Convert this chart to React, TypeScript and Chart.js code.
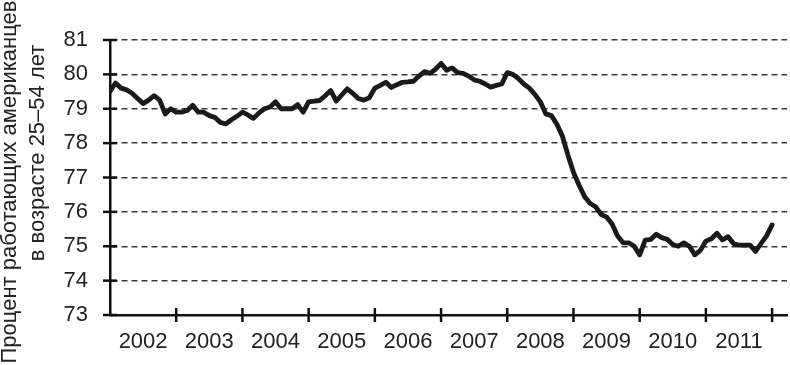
import React, { useEffect, useRef } from "react";
import { Chart, registerables } from "chart.js";

Chart.register(...registerables);

// ---- data ----
const years = ["2002", "2003", "2004", "2005", "2006", "2007", "2008", "2009", "2010", "2011"];
const yTicks = [73, 74, 75, 76, 77, 78, 79, 80, 81];
const titleLine1 = "Процент работающих американцев";
const titleLine2 = "в возрасте 25–54 лет";
// monthly values, Jan 2002 .. Jan 2012
const employmentRate = [
  79.5, 79.75, 79.6, 79.55, 79.45, 79.3, 79.15, 79.25, 79.38, 79.25, 78.85, 79.0,
  78.9, 78.9, 78.95, 79.1, 78.9, 78.9, 78.8, 78.75, 78.6, 78.56, 78.68, 78.78,
  78.9, 78.82, 78.72, 78.88, 79.0, 79.05, 79.2, 79.0, 79.0, 79.0, 79.12, 78.9,
  79.2, 79.22, 79.24, 79.38, 79.53, 79.22, 79.4, 79.58, 79.45, 79.3, 79.25, 79.32,
  79.6, 79.68, 79.77, 79.62, 79.7, 79.77, 79.78, 79.8, 79.95, 80.08, 80.03, 80.15,
  80.32, 80.12, 80.19, 80.05, 80.03, 79.95, 79.84, 79.8, 79.72, 79.63, 79.68, 79.72,
  80.05, 80.0, 79.88, 79.72, 79.6, 79.42, 79.2, 78.85, 78.8, 78.55, 78.2, 77.65,
  77.15, 76.78, 76.45, 76.25, 76.15, 75.93, 75.85, 75.65, 75.3, 75.1, 75.1, 75.0,
  74.75, 75.18, 75.2, 75.35, 75.25, 75.2, 75.05, 75.0, 75.1, 75.0, 74.75, 74.88,
  75.15, 75.22, 75.38, 75.18, 75.28, 75.08, 75.03, 75.03, 75.03, 74.85, 75.08, 75.3,
  75.62,
];
const monthsPerYear = 12;
const xMax = 122.7;

const FONT = "'Liberation Sans', Arial, Helvetica, sans-serif";

const crossTicks = {
  id: "crossTicks",
  afterDraw(chart: any) {
    const { ctx, scales } = chart;
    const x = scales.x;
    const y = scales.y;
    ctx.save();
    ctx.strokeStyle = "#111";
    ctx.lineWidth = 2.5;
    ctx.setLineDash([]);
    yTicks.forEach((v) => {
      const py = y.getPixelForValue(v);
      ctx.beginPath();
      ctx.moveTo(x.left - 7, py);
      ctx.lineTo(x.left + 7, py);
      ctx.stroke();
    });
    years.forEach((_, k) => {
      const px = x.getPixelForValue((k + 1) * monthsPerYear);
      ctx.beginPath();
      ctx.moveTo(px, y.bottom - 7);
      ctx.lineTo(px, y.bottom + 7);
      ctx.stroke();
    });
    ctx.restore();
  },
};

const sideTitle = {
  id: "sideTitle",
  afterDraw(chart: any) {
    const { ctx } = chart;
    ctx.save();
    ctx.fillStyle = "#222";
    ctx.font = `22px ${FONT}`;
    ctx.textAlign = "center";
    ctx.textBaseline = "alphabetic";
    const draw = (text: string, bx: number, cy: number) => {
      ctx.save();
      ctx.translate(bx, cy);
      ctx.rotate(-Math.PI / 2);
      ctx.fillText(text, 0, 0);
      ctx.restore();
    };
    draw(titleLine1, 16, 182);
    draw(titleLine2, 44, 153);
    ctx.restore();
  },
};

export default function App() {
  const ref = useRef<HTMLCanvasElement | null>(null);

  useEffect(() => {
    if (!ref.current) return;
    const chart = new Chart(ref.current, {
      type: "line",
      data: {
        datasets: [
          {
            data: employmentRate.map((v, i) => ({ x: i, y: v })),
            borderColor: "#1a1a1a",
            borderWidth: 4.8,
            pointRadius: 0,
            tension: 0,
            fill: false,
            borderJoinStyle: "round",
            borderCapStyle: "round",
          },
        ],
      },
      options: {
        responsive: false,
        animation: false,
        devicePixelRatio: 1,
        layout: { padding: { top: 40, right: 3, left: 0, bottom: 0 } },
        plugins: { legend: { display: false }, tooltip: { enabled: false } },
        scales: {
          x: {
            type: "linear",
            min: 0,
            max: xMax,
            afterBuildTicks: (scale: any) => {
              scale.ticks = years.map((_, k) => ({ value: k * monthsPerYear + monthsPerYear / 2 }));
            },
            afterFit: (scale: any) => {
              scale.height = 50;
            },
            grid: { display: false, drawTicks: false },
            border: { display: true, color: "#111", width: 2.5 },
            ticks: {
              autoSkip: false,
              maxRotation: 0,
              padding: 14,
              color: "#222",
              font: { size: 22, family: FONT },
              callback: (value: any) => years[Math.round((Number(value) - monthsPerYear / 2) / monthsPerYear)],
            },
          },
          y: {
            min: 73,
            max: 81,
            afterBuildTicks: (scale: any) => {
              scale.ticks = yTicks.map((v) => ({ value: v }));
            },
            afterFit: (scale: any) => {
              scale.width = 110;
            },
            grid: {
              display: true,
              drawTicks: false,
              color: (c: any) => (c.tick && c.tick.value === 73 ? "rgba(0,0,0,0)" : "#3a3a3a"),
              lineWidth: 1.5,
            },
            border: { display: true, color: "#111", width: 2.5, dash: [6, 4] },
            ticks: {
              padding: 22,
              color: "#222",
              font: { size: 22, family: FONT },
              callback: (value: any) => String(value),
            },
          },
        },
      },
      plugins: [crossTicks, sideTitle],
    });
    return () => chart.destroy();
  }, []);

  return (
    <div style={{ position: "fixed", left: 0, top: 0, width: 790, height: 365, background: "#fff" }}>
      <canvas ref={ref} width={790} height={365} style={{ display: "block", width: 790, height: 365 }} />
    </div>
  );
}
